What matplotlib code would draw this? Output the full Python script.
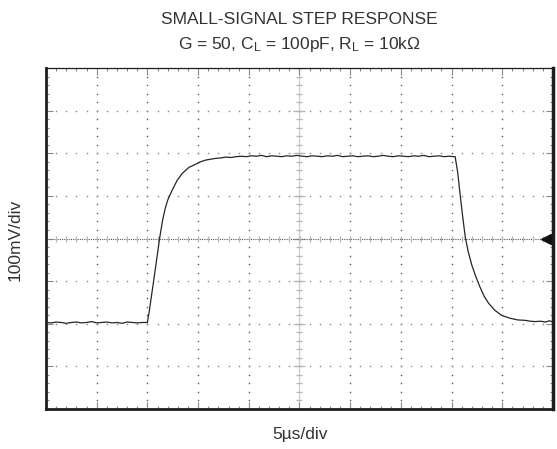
import numpy as np
import matplotlib
matplotlib.use("Agg")
import matplotlib.pyplot as plt

plt.rcParams['font.family'] = ['Liberation Sans', 'DejaVu Sans']
plt.rcParams['mathtext.fontset'] = 'custom'
plt.rcParams['mathtext.rm'] = 'Liberation Sans'
plt.rcParams['mathtext.it'] = 'Liberation Sans:italic'

# ---- data (in scope divisions) ----
low_t = [-5.0, -4.9, -4.8, -4.7, -4.6, -4.5, -4.4, -4.3, -4.2, -4.1, -4.0,
         -3.9, -3.8, -3.7, -3.6, -3.5, -3.4, -3.3, -3.2, -3.1, -3.0]
low_v = [-1.97, -1.98, -1.96, -1.97, -1.99, -1.97, -1.96, -1.98, -1.97, -1.95, -1.98,
         -1.97, -1.96, -1.98, -1.97, -1.99, -1.96, -1.97, -1.98, -1.97, -1.97]

rise_t = [-2.96, -2.92, -2.88, -2.84, -2.80, -2.76, -2.70, -2.65, -2.60, -2.51,
          -2.41, -2.31, -2.18, -2.05, -1.95, -1.85, -1.75, -1.65, -1.55, -1.45,
          -1.35, -1.25, -1.15]
rise_v = [-1.68, -1.35, -1.02, -0.68, -0.35, 0.00, 0.43, 0.70, 0.90, 1.14,
          1.37, 1.53, 1.67, 1.74, 1.80, 1.84, 1.86, 1.88, 1.89, 1.91,
          1.90, 1.92, 1.93]

high_t = [-1.05, -0.95, -0.85, -0.75, -0.65, -0.55, -0.45, -0.35, -0.25, -0.15,
          -0.05, 0.05, 0.15, 0.25, 0.35, 0.45, 0.55, 0.65, 0.75, 0.85, 0.95,
          1.05, 1.15, 1.25, 1.35, 1.45, 1.55, 1.65, 1.75, 1.85, 1.95, 2.05,
          2.15, 2.25, 2.35, 2.45, 2.55, 2.65, 2.75, 2.85, 2.95, 3.05]
high_v = [1.92, 1.94, 1.93, 1.95, 1.92, 1.94, 1.93, 1.92, 1.94, 1.93,
          1.95, 1.93, 1.92, 1.94, 1.93, 1.92, 1.94, 1.93, 1.95, 1.92, 1.93,
          1.94, 1.92, 1.93, 1.94, 1.92, 1.93, 1.95, 1.93, 1.92, 1.94, 1.93,
          1.92, 1.94, 1.93, 1.95, 1.92, 1.93, 1.94, 1.92, 1.93, 1.92]

fall_t = [3.07, 3.12, 3.17, 3.22, 3.27, 3.33, 3.40, 3.48, 3.56, 3.64, 3.73,
          3.85, 3.98, 4.15, 4.30, 4.45, 4.55, 4.65, 4.75, 4.85, 4.93, 5.0]
fall_v = [1.92, 1.55, 1.01, 0.50, 0.03, -0.32, -0.63, -0.90, -1.14, -1.35, -1.52,
          -1.68, -1.80, -1.87, -1.91, -1.92, -1.94, -1.95, -1.94, -1.96, -1.93, -1.96]

t = np.array(low_t + rise_t + high_t + fall_t)
v = np.array(low_v + rise_v + high_v + fall_v)

title_lines = ["SMALL-SIGNAL STEP RESPONSE",
               r"G = 50, C$_{\mathrm{L}}$ = 100pF, R$_{\mathrm{L}}$ = 10kΩ"]
x_label = "5µs/div"
y_label = "100mV/div"

fig = plt.figure(figsize=(5.57, 4.49), dpi=100)
ax = fig.add_axes([46/557, 1-409/449, (553-46)/557, (409-68)/449])
ax.set_xlim(-5, 5)
ax.set_ylim(-4, 4)

# dotted graticule
minor_x = np.arange(-5, 5.001, 0.2)
minor_y = np.arange(-4, 4.001, 0.2)
for k in range(-4, 5):
    if k == 0:
        continue
    ax.plot(np.full_like(minor_y, k), minor_y, ls='none', marker='s',
            ms=1.0, mec='none', mfc='#555555', zorder=1)
for k in range(-3, 4):
    if k == 0:
        continue
    ax.plot(minor_x, np.full_like(minor_x, k), ls='none', marker='s',
            ms=1.0, mec='none', mfc='#888888', zorder=1)

# center axes
ax.axvline(0, color='#cccccc', lw=0.9, zorder=1)
ax.plot(np.zeros_like(minor_y), minor_y, ls='none', marker='_', ms=4.5,
        mew=0.9, color='#b5b5b5', zorder=1)
ax.plot(np.zeros(9), np.arange(-4, 5), ls='none', marker='_', ms=8,
        mew=0.9, color='#b5b5b5', zorder=1)
ax.axhline(0, color='#555555', lw=0.8, ls=(0, (1, 1)), zorder=1)
ax.plot(minor_x, np.zeros_like(minor_x), ls='none', marker='|', ms=4,
        mew=0.9, color='#b5b5b5', zorder=1)

# trace
ax.plot(t, v, color='#262626', lw=0.9, zorder=3)

# ground marker arrow
ax.plot([4.86], [0], marker='<', ms=7, color='#111111', zorder=4, clip_on=False)
ax.plot([4.86, 5.0], [0, 0], color='#111111', lw=1.0, zorder=4)

# frame
for side, lw in [('left', 2.0), ('bottom', 2.0), ('right', 2.5), ('top', 0.9)]:
    ax.spines[side].set_linewidth(lw)
    ax.spines[side].set_color('#1e1e1e')

ax.set_xticks(np.arange(-5, 5.001, 1))
ax.set_yticks(np.arange(-4, 4.001, 1))
ax.set_xticks(minor_x, minor=True)
ax.set_yticks(minor_y, minor=True)
ax.tick_params(which='both', direction='in', top=True, right=True,
               labelbottom=False, labelleft=False, color='#888888')
ax.tick_params(which='major', length=5, width=0.8)
ax.tick_params(which='minor', length=2.5, width=0.8)

fs = 12.5
fig.text(299/557, 1-19/449, title_lines[0], ha='center', va='center',
         fontsize=fs, color='#333333')
fig.text(299/557, 1-45/449, title_lines[1], ha='center', va='center',
         fontsize=fs, color='#333333')
fig.text(300/557, 1-434/449, x_label, ha='center', va='center',
         fontsize=fs, color='#333333')
fig.text(15/557, 1-240/449, y_label, ha='center', va='center',
         rotation=90, fontsize=fs, color='#333333')

fig.savefig("out.png", dpi=100)
